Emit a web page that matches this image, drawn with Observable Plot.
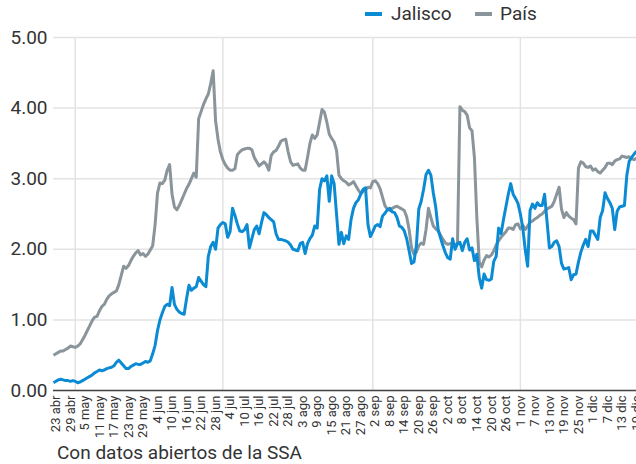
<!DOCTYPE html>
<html><head><meta charset="utf-8">
<script src="https://cdn.jsdelivr.net/npm/d3@7"></script>
<script src="https://cdn.jsdelivr.net/npm/@observablehq/plot@0.6"></script>
<style>
body{margin:0;background:#fff;font-family:Roboto,"Noto Sans",sans-serif;}
#wrap{position:relative;width:636px;height:464px;overflow:hidden;background:#fff;}
#chart{position:absolute;left:0;top:0;}
.leg{position:absolute;font-size:19px;line-height:20px;color:#333;white-space:nowrap;}
.sw{position:absolute;height:4px;width:17px;}
#caption{position:absolute;left:57px;top:442px;font-size:19px;line-height:22px;color:#333;white-space:nowrap;}
</style></head>
<body>
<div id="wrap">
  <div id="chart"></div>
  <div class="sw" style="left:365px;top:12px;background:#0b8bd3"></div>
  <div class="leg" style="left:391px;top:4px">Jalisco</div>
  <div class="sw" style="left:475px;top:12px;background:#8a949b"></div>
  <div class="leg" style="left:500px;top:4px">País</div>
  <div id="caption">Con datos abiertos de la SSA</div>
</div>
<script>
const startDate = "2020-04-22";
const seriesNames = ["Jalisco", "País"];
const seriesColors = ["#0b8bd3", "#8a949b"];

const jalisco = [
0.11,0.13,0.15,0.16,0.15,0.14,0.14,0.13,0.14,0.13,
0.11,0.12,0.14,0.16,0.18,0.20,0.22,0.25,0.27,0.29,
0.28,0.29,0.31,0.32,0.33,0.35,0.40,0.43,0.39,0.35,
0.31,0.31,0.34,0.36,0.38,0.37,0.37,0.39,0.41,0.40,
0.42,0.52,0.64,0.85,1.00,1.10,1.19,1.22,1.20,1.46,
1.22,1.15,1.11,1.09,1.08,1.30,1.49,1.42,1.45,1.47,
1.60,1.55,1.50,1.47,1.90,2.04,2.10,2.00,2.30,2.35,
2.38,2.36,2.17,2.25,2.58,2.48,2.36,2.26,2.25,2.28,
2.35,2.02,2.15,2.28,2.33,2.22,2.38,2.52,2.49,2.45,
2.42,2.39,2.22,2.14,2.14,2.13,2.12,2.10,2.06,2.00,
1.99,1.98,2.08,2.10,1.94,2.08,2.15,2.20,2.33,2.30,
2.85,3.00,2.97,3.04,2.68,3.04,2.93,2.50,2.07,2.24,
2.08,2.19,2.14,2.42,2.58,2.66,2.70,2.78,2.85,2.87,
2.35,2.18,2.25,2.33,2.35,2.32,2.47,2.51,2.56,2.58,
2.53,2.52,2.45,2.33,2.31,2.26,2.15,1.98,1.80,1.82,
2.05,2.57,2.68,2.85,3.06,3.12,3.05,2.80,2.60,2.28,
2.16,2.05,1.95,1.88,1.86,2.15,2.00,2.08,2.10,1.98,
2.10,2.15,1.99,2.02,1.84,1.93,1.60,1.45,1.65,1.57,
1.56,1.58,1.83,1.90,2.30,2.22,2.42,2.60,2.78,2.93,
2.78,2.72,2.65,2.50,2.30,2.00,1.76,2.55,2.64,2.58,
2.66,2.62,2.62,2.78,2.40,2.02,2.04,2.10,2.12,2.04,
1.80,1.72,1.73,1.74,1.57,1.64,1.65,1.82,1.96,2.06,
2.14,2.04,2.26,2.26,2.20,2.14,2.45,2.55,2.80,2.72,
2.66,2.58,2.28,2.54,2.60,2.61,2.62,3.05,3.25,3.30,
3.35,3.39];

const pais = [
0.50,0.52,0.54,0.56,0.56,0.58,0.60,0.63,0.62,0.61,
0.63,0.66,0.72,0.78,0.85,0.92,0.99,1.04,1.05,1.13,
1.19,1.22,1.29,1.34,1.37,1.39,1.41,1.50,1.63,1.76,
1.73,1.77,1.84,1.90,1.95,1.98,1.92,1.94,1.90,1.93,
1.99,2.05,2.35,2.80,2.94,2.93,2.98,3.12,3.20,2.78,
2.60,2.56,2.62,2.70,2.78,2.86,2.92,3.00,3.08,3.02,
3.85,3.95,4.05,4.13,4.20,4.35,4.53,3.82,3.56,3.38,
3.27,3.20,3.15,3.12,3.12,3.14,3.34,3.38,3.41,3.42,
3.43,3.43,3.41,3.30,3.24,3.18,3.21,3.24,3.20,3.12,
3.33,3.38,3.40,3.46,3.53,3.55,3.56,3.38,3.24,3.19,
3.20,3.21,3.15,3.12,3.12,3.30,3.50,3.62,3.57,3.62,
3.80,3.98,3.94,3.80,3.63,3.57,3.52,3.40,3.05,3.00,
2.97,2.95,2.91,2.93,2.96,2.90,2.84,2.79,2.82,2.84,
2.88,2.87,2.96,2.97,2.93,2.86,2.74,2.62,2.57,2.55,
2.58,2.60,2.61,2.59,2.57,2.55,2.46,2.28,2.02,1.93,
1.96,2.05,2.09,2.07,2.28,2.58,2.45,2.33,2.29,2.26,
2.20,2.14,2.09,2.07,2.08,2.09,2.07,2.08,4.02,3.97,
3.95,3.90,3.72,3.68,3.30,2.45,1.82,1.75,1.85,1.91,
1.89,1.92,1.98,2.06,2.12,2.17,2.21,2.25,2.30,2.30,
2.28,2.35,2.36,2.29,2.34,2.28,2.33,2.38,2.40,2.43,
2.45,2.48,2.50,2.54,2.57,2.59,2.61,2.68,2.78,2.88,
2.57,2.45,2.52,2.47,2.44,2.42,2.36,3.15,3.24,3.22,
3.17,3.16,3.18,3.12,3.14,3.10,3.08,3.12,3.16,3.22,
3.22,3.20,3.25,3.27,3.28,3.32,3.31,3.30,3.31,3.28,
3.27,3.29];

const tickLabels = ["23 abr","29 abr","5 may","11 may","17 may","23 may","29 may","4 jun","10 jun","16 jun","22 jun","28 jun","4 jul","10 jul","16 jul","22 jul","28 jul","3 ago","9 ago","15 ago","21 ago","27 ago","2 sep","8 sep","14 sep","20 sep","26 sep","2 oct","8 oct","14 oct","20 oct","26 oct","1 nov","7 nov","13 nov","19 nov","25 nov","1 dic","7 dic","13 dic","19 dic"];
const yTicks = [0, 1, 2, 3, 4, 5];
const gridDates = ["2020-05-01", "2020-07-01", "2020-09-01", "2020-11-01"];

const monthIdx = {ene:0,feb:1,mar:2,abr:3,may:4,jun:5,jul:6,ago:7,sep:8,oct:9,nov:10,dic:11};
const start = new Date(startDate + "T00:00:00Z");
const tickDates = tickLabels.map(s => { const [d, m] = s.split(" "); return new Date(Date.UTC(2020, monthIdx[m], +d)); });
const labelOf = new Map(tickDates.map((d, i) => [+d, tickLabels[i]]));
const toRows = (arr, name) => arr.map((v, i) => ({date: d3.utcDay.offset(start, i), value: v, serie: name}));
const rows = [...toRows(pais, "País"), ...toRows(jalisco, "Jalisco")];
const end = d3.utcDay.offset(start, jalisco.length - 1);

const chart = Plot.plot({
  width: 636, height: 442,
  marginTop: 37, marginBottom: 52, marginLeft: 53, marginRight: 0,
  style: {fontFamily: "Roboto, sans-serif", color: "#333", background: "transparent", overflow: "visible"},
  x: {type: "utc", domain: [start, end]},
  y: {domain: [0, 5]},
  color: {domain: seriesNames, range: seriesColors},
  marks: [
    Plot.ruleY(yTicks, {stroke: "#e3e3e3", strokeWidth: 1.5}),
    Plot.ruleX(gridDates.map(d => new Date(d + "T00:00:00Z")), {y1: 0, y2: 5, stroke: "#e3e3e3", strokeWidth: 1.5}),
    Plot.axisY(yTicks, {tickFormat: d => d.toFixed(2), tickSize: 0, tickPadding: 6, fontSize: 19, label: null}),
    Plot.axisX(tickDates, {tickFormat: d => labelOf.get(+d), tickRotate: -90, tickSize: 0, tickPadding: 5, fontSize: 13, label: null}),
    Plot.line(rows, {x: "date", y: "value", z: "serie", stroke: "serie", strokeWidth: 3, strokeLinejoin: "round", strokeLinecap: "butt"}),
    Plot.ruleY([0], {stroke: "#444", strokeWidth: 1.5})
  ]
});
document.getElementById("chart").appendChild(chart);
</script>
</body></html>
